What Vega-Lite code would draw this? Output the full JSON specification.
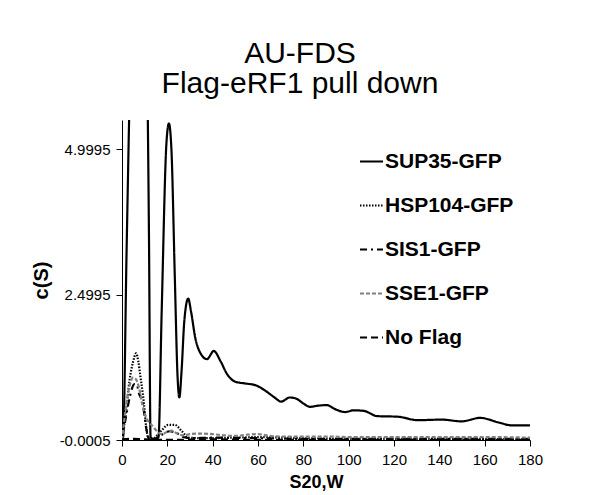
{
  "$schema": "https://vega.github.io/schema/vega-lite/v6.json",
  "width": 408,
  "height": 320,
  "autosize": {"type": "none"},
  "padding": {"left": 122, "top": 120, "right": 59, "bottom": 55},
  "background": "white",
  "title": {
    "text": ["AU-FDS", "Flag-eRF1 pull down"],
    "font": "Liberation Sans",
    "fontSize": 30,
    "fontWeight": "normal",
    "lineHeight": 30,
    "color": "black",
    "anchor": "middle",
    "dx": -26,
    "offset": 21
  },
  "data": {
    "values": [
      {"series": "SUP35-GFP", "s": 0, "c": 0},
      {"series": "SUP35-GFP", "s": 0.5, "c": 0.05},
      {"series": "SUP35-GFP", "s": 2.0, "c": 3.2},
      {"series": "SUP35-GFP", "s": 3.5, "c": 6.2},
      {"series": "SUP35-GFP", "s": 7.5, "c": 12},
      {"series": "SUP35-GFP", "s": 11.0, "c": 6.8},
      {"series": "SUP35-GFP", "s": 11.9, "c": 3.5},
      {"series": "SUP35-GFP", "s": 12.6, "c": 0.05},
      {"series": "SUP35-GFP", "s": 14.5, "c": 0},
      {"series": "SUP35-GFP", "s": 16.1, "c": 0.05},
      {"series": "SUP35-GFP", "s": 17.5, "c": 2.2},
      {"series": "SUP35-GFP", "s": 19.6, "c": 5.1},
      {"series": "SUP35-GFP", "s": 20.7, "c": 5.44},
      {"series": "SUP35-GFP", "s": 21.8, "c": 5.0},
      {"series": "SUP35-GFP", "s": 23.3, "c": 2.8},
      {"series": "SUP35-GFP", "s": 24.5, "c": 1.1},
      {"series": "SUP35-GFP", "s": 25.3, "c": 0.73},
      {"series": "SUP35-GFP", "s": 26.3, "c": 1.2},
      {"series": "SUP35-GFP", "s": 27.5, "c": 2.05},
      {"series": "SUP35-GFP", "s": 29.2, "c": 2.43},
      {"series": "SUP35-GFP", "s": 30.5, "c": 2.2},
      {"series": "SUP35-GFP", "s": 32.3, "c": 1.76},
      {"series": "SUP35-GFP", "s": 34.5, "c": 1.5},
      {"series": "SUP35-GFP", "s": 37.5, "c": 1.39},
      {"series": "SUP35-GFP", "s": 40.5, "c": 1.53},
      {"series": "SUP35-GFP", "s": 43.4, "c": 1.36},
      {"series": "SUP35-GFP", "s": 46.4, "c": 1.13},
      {"series": "SUP35-GFP", "s": 50.1, "c": 1.0},
      {"series": "SUP35-GFP", "s": 54.6, "c": 0.97},
      {"series": "SUP35-GFP", "s": 59, "c": 0.94},
      {"series": "SUP35-GFP", "s": 63.5, "c": 0.84},
      {"series": "SUP35-GFP", "s": 67.3, "c": 0.73},
      {"series": "SUP35-GFP", "s": 70.2, "c": 0.66},
      {"series": "SUP35-GFP", "s": 74, "c": 0.73},
      {"series": "SUP35-GFP", "s": 76.9, "c": 0.71},
      {"series": "SUP35-GFP", "s": 79.9, "c": 0.63},
      {"series": "SUP35-GFP", "s": 82.9, "c": 0.57},
      {"series": "SUP35-GFP", "s": 86.6, "c": 0.59},
      {"series": "SUP35-GFP", "s": 90.3, "c": 0.6},
      {"series": "SUP35-GFP", "s": 94, "c": 0.53},
      {"series": "SUP35-GFP", "s": 98.5, "c": 0.48},
      {"series": "SUP35-GFP", "s": 102.2, "c": 0.51},
      {"series": "SUP35-GFP", "s": 106.7, "c": 0.5},
      {"series": "SUP35-GFP", "s": 112.6, "c": 0.41},
      {"series": "SUP35-GFP", "s": 121.6, "c": 0.4},
      {"series": "SUP35-GFP", "s": 130.5, "c": 0.34},
      {"series": "SUP35-GFP", "s": 141, "c": 0.35},
      {"series": "SUP35-GFP", "s": 149.9, "c": 0.32},
      {"series": "SUP35-GFP", "s": 158, "c": 0.38},
      {"series": "SUP35-GFP", "s": 166.2, "c": 0.3},
      {"series": "SUP35-GFP", "s": 172.2, "c": 0.25},
      {"series": "SUP35-GFP", "s": 180, "c": 0.25},

      {"series": "HSP104-GFP", "s": 0, "c": 0},
      {"series": "HSP104-GFP", "s": 1.8, "c": 0.5},
      {"series": "HSP104-GFP", "s": 3.3, "c": 1.02},
      {"series": "HSP104-GFP", "s": 4.8, "c": 1.33},
      {"series": "HSP104-GFP", "s": 6.25, "c": 1.49},
      {"series": "HSP104-GFP", "s": 7.2, "c": 1.35},
      {"series": "HSP104-GFP", "s": 8.2, "c": 1.07},
      {"series": "HSP104-GFP", "s": 9.7, "c": 0.62},
      {"series": "HSP104-GFP", "s": 10.7, "c": 0.21},
      {"series": "HSP104-GFP", "s": 11.7, "c": 0.03},
      {"series": "HSP104-GFP", "s": 13.5, "c": 0.02},
      {"series": "HSP104-GFP", "s": 15.5, "c": 0.08},
      {"series": "HSP104-GFP", "s": 17.4, "c": 0.16},
      {"series": "HSP104-GFP", "s": 20.4, "c": 0.26},
      {"series": "HSP104-GFP", "s": 23.3, "c": 0.26},
      {"series": "HSP104-GFP", "s": 26.3, "c": 0.155},
      {"series": "HSP104-GFP", "s": 29.3, "c": 0.04},
      {"series": "HSP104-GFP", "s": 35, "c": 0.03},
      {"series": "HSP104-GFP", "s": 50, "c": 0.04},
      {"series": "HSP104-GFP", "s": 60, "c": 0.05},
      {"series": "HSP104-GFP", "s": 80, "c": 0.03},
      {"series": "HSP104-GFP", "s": 100, "c": 0.02},
      {"series": "HSP104-GFP", "s": 140, "c": 0.02},
      {"series": "HSP104-GFP", "s": 180, "c": 0.01},

      {"series": "SIS1-GFP", "s": 0, "c": 0},
      {"series": "SIS1-GFP", "s": 2.0, "c": 0.45},
      {"series": "SIS1-GFP", "s": 3.5, "c": 0.75},
      {"series": "SIS1-GFP", "s": 5.5, "c": 0.96},
      {"series": "SIS1-GFP", "s": 6.5, "c": 0.95},
      {"series": "SIS1-GFP", "s": 7.5, "c": 0.8},
      {"series": "SIS1-GFP", "s": 9.2, "c": 0.62},
      {"series": "SIS1-GFP", "s": 10.7, "c": 0.2},
      {"series": "SIS1-GFP", "s": 12.2, "c": 0.0},
      {"series": "SIS1-GFP", "s": 15, "c": 0.03},
      {"series": "SIS1-GFP", "s": 18, "c": 0.1},
      {"series": "SIS1-GFP", "s": 21, "c": 0.15},
      {"series": "SIS1-GFP", "s": 24, "c": 0.12},
      {"series": "SIS1-GFP", "s": 27, "c": 0.05},
      {"series": "SIS1-GFP", "s": 30, "c": 0.03},
      {"series": "SIS1-GFP", "s": 40, "c": 0.04},
      {"series": "SIS1-GFP", "s": 60, "c": 0.03},
      {"series": "SIS1-GFP", "s": 80, "c": 0.02},
      {"series": "SIS1-GFP", "s": 120, "c": 0.02},
      {"series": "SIS1-GFP", "s": 180, "c": 0.02},

      {"series": "SSE1-GFP", "s": 0, "c": 0},
      {"series": "SSE1-GFP", "s": 1.5, "c": 0.5},
      {"series": "SSE1-GFP", "s": 3.5, "c": 0.95},
      {"series": "SSE1-GFP", "s": 4.8, "c": 1.07},
      {"series": "SSE1-GFP", "s": 6, "c": 1.05},
      {"series": "SSE1-GFP", "s": 7.5, "c": 0.9},
      {"series": "SSE1-GFP", "s": 9.0, "c": 0.6},
      {"series": "SSE1-GFP", "s": 10.5, "c": 0.4},
      {"series": "SSE1-GFP", "s": 12, "c": 0.3},
      {"series": "SSE1-GFP", "s": 13.5, "c": 0.24},
      {"series": "SSE1-GFP", "s": 15.5, "c": 0.15},
      {"series": "SSE1-GFP", "s": 17.5, "c": 0.1},
      {"series": "SSE1-GFP", "s": 20, "c": 0.14},
      {"series": "SSE1-GFP", "s": 22, "c": 0.16},
      {"series": "SSE1-GFP", "s": 24, "c": 0.12},
      {"series": "SSE1-GFP", "s": 27, "c": 0.08},
      {"series": "SSE1-GFP", "s": 30, "c": 0.1},
      {"series": "SSE1-GFP", "s": 35, "c": 0.11},
      {"series": "SSE1-GFP", "s": 40, "c": 0.1},
      {"series": "SSE1-GFP", "s": 45, "c": 0.08},
      {"series": "SSE1-GFP", "s": 50, "c": 0.07},
      {"series": "SSE1-GFP", "s": 55, "c": 0.09},
      {"series": "SSE1-GFP", "s": 60, "c": 0.1},
      {"series": "SSE1-GFP", "s": 65, "c": 0.07},
      {"series": "SSE1-GFP", "s": 70, "c": 0.06},
      {"series": "SSE1-GFP", "s": 80, "c": 0.06},
      {"series": "SSE1-GFP", "s": 90, "c": 0.06},
      {"series": "SSE1-GFP", "s": 100, "c": 0.05},
      {"series": "SSE1-GFP", "s": 120, "c": 0.05},
      {"series": "SSE1-GFP", "s": 140, "c": 0.05},
      {"series": "SSE1-GFP", "s": 160, "c": 0.05},
      {"series": "SSE1-GFP", "s": 180, "c": 0.04},

      {"series": "No Flag", "s": 0, "c": 0.01},
      {"series": "No Flag", "s": 5, "c": 0.02},
      {"series": "No Flag", "s": 10, "c": 0.01},
      {"series": "No Flag", "s": 20, "c": 0.0},
      {"series": "No Flag", "s": 40, "c": 0.01},
      {"series": "No Flag", "s": 60, "c": 0.0},
      {"series": "No Flag", "s": 100, "c": 0.0},
      {"series": "No Flag", "s": 180, "c": 0.0}
    ]
  },
  "mark": {"type": "line", "clip": true, "strokeWidth": 2.2, "interpolate": "monotone"},
  "encoding": {
    "x": {
      "field": "s",
      "type": "quantitative",
      "scale": {"domain": [0, 180], "nice": false, "zero": false},
      "axis": {
        "title": "S20,W",
        "titleFont": "Liberation Sans",
        "titleFontSize": 18,
        "titleFontWeight": "bold",
        "titleColor": "black",
        "titleX": 194,
        "titlePadding": 6,
        "values": [0, 20, 40, 60, 80, 100, 120, 140, 160, 180],
        "format": "d",
        "labelFont": "Liberation Sans",
        "labelFontSize": 15,
        "labelColor": "black",
        "labelPadding": 6,
        "tickSize": 6,
        "tickColor": "black",
        "domainColor": "black",
        "grid": false,
        "labelFlush": false,
        "labelOverlap": false
      }
    },
    "y": {
      "field": "c",
      "type": "quantitative",
      "scale": {"domain": [-0.0005, 5.5], "nice": false, "zero": false},
      "axis": {
        "title": "c(S)",
        "titleFont": "Liberation Sans",
        "titleFontSize": 20,
        "titleFontWeight": "bold",
        "titleColor": "black",
        "titlePadding": 8,
        "values": [-0.0005, 2.4995, 4.9995],
        "labelExpr": "replace(format(datum.value, '.4f'), '\u2212', '-')",
        "labelFont": "Liberation Sans",
        "labelFontSize": 15,
        "labelColor": "black",
        "labelPadding": 6,
        "tickSize": 6,
        "tickColor": "black",
        "domainColor": "black",
        "grid": false,
        "labelFlush": false,
        "labelOverlap": false
      }
    },
    "color": {
      "field": "series",
      "type": "nominal",
      "scale": {
        "domain": ["SUP35-GFP", "HSP104-GFP", "SIS1-GFP", "SSE1-GFP", "No Flag"],
        "range": ["#000000", "#000000", "#000000", "#808080", "#000000"]
      },
      "legend": {
        "title": null,
        "orient": "none",
        "legendX": 237,
        "legendY": 29,
        "symbolType": "stroke",
        "symbolSize": 529,
        "symbolStrokeWidth": 2,
        "labelFont": "Liberation Sans",
        "labelFontSize": 21,
        "labelFontWeight": "bold",
        "labelColor": "black",
        "labelOffset": 1,
        "rowPadding": 21
      }
    },
    "strokeDash": {
      "field": "series",
      "type": "nominal",
      "scale": {
        "domain": ["SUP35-GFP", "HSP104-GFP", "SIS1-GFP", "SSE1-GFP", "No Flag"],
        "range": [[1, 0], [1.5, 1.5], [7, 4, 2, 4], [4, 2], [7, 4]]
      },
      "legend": {
        "title": null,
        "orient": "none",
        "legendX": 237,
        "legendY": 29,
        "symbolType": "stroke",
        "symbolSize": 529,
        "symbolStrokeWidth": 2,
        "labelFont": "Liberation Sans",
        "labelFontSize": 21,
        "labelFontWeight": "bold",
        "labelColor": "black",
        "labelOffset": 1,
        "rowPadding": 21
      }
    }
  },
  "config": {
    "view": {"stroke": null}
  }
}
